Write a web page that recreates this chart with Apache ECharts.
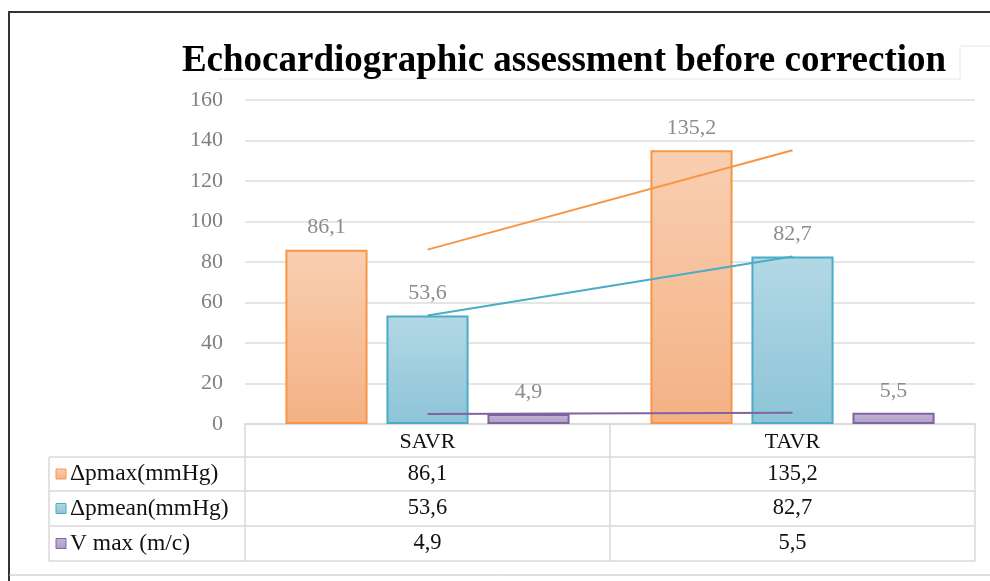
<!DOCTYPE html>
<html>
<head>
<meta charset="utf-8">
<script src="https://cdn.jsdelivr.net/npm/echarts@6/dist/echarts.min.js"></script>
<style>
html,body{margin:0;padding:0;background:#fff;}
#chart{width:990px;height:581px;}
</style>
</head>
<body>
<div id="chart"></div>
<script>
// ---- data ----
const categories = ['SAVR', 'TAVR'];
const seriesNames = ['Δpmax(mmHg)', 'Δpmean(mmHg)', 'V max (m/c)'];
const pmaxValues = [86.1, 135.2];
const pmeanValues = [53.6, 82.7];
const vmaxValues = [4.9, 5.5];
const yTicks = [0, 20, 40, 60, 80, 100, 120, 140, 160];
const titleText = 'Echocardiographic assessment before correction';

// ---- styles ----
const SERIF = '"Liberation Serif", "Times New Roman", serif';
const colors = [
  {top: '#F9CFB2', bottom: '#F4B184', border: '#F79646', line: '#F79646'},
  {top: '#B3D8E5', bottom: '#8CC4D7', border: '#4BACC6', line: '#4BACC6'},
  {top: '#C3B6D6', bottom: '#AE9CC8', border: '#8064A2', line: '#8064A2'}
];
const allValues = [pmaxValues, pmeanValues, vmaxValues];
const fmt = v => String(v).replace('.', ',');

const G = {left: 245, right: 975, top: 100, bottom: 424};
const rowH = [424, 457, 491, 526, 561];
const labelColLeft = 49;
const grad = c => new echarts.graphic.LinearGradient(0, 0, 0, 1, [
  {offset: 0, color: c.top}, {offset: 1, color: c.bottom}]);

const series = [];
allValues.forEach((vals, i) => {
  series.push({
    name: seriesNames[i], type: 'bar', data: vals,
    barWidth: '22.5%', barGap: '23%',
    itemStyle: {color: grad(colors[i]), borderColor: colors[i].border, borderWidth: 2},
    label: {show: true, position: 'top', distance: 11, color: '#8c8c8c',
      fontFamily: SERIF, fontSize: 22, formatter: p => fmt(p.value)},
    z: 2
  });
});
allValues.forEach((vals, i) => {
  series.push({
    name: seriesNames[i] + ' trend', type: 'line', data: vals,
    symbol: 'none', lineStyle: {color: colors[i].line, width: 2},
    z: 5, silent: true
  });
});

// ---- table graphics ----
const graphics = [];
const tableLine = '#d9d9d9';
function hline(x1, x2, y, color, w) {
  graphics.push({type: 'line', shape: {x1, y1: y, x2, y2: y},
    style: {stroke: color || tableLine, lineWidth: w || 1.5}, silent: true});
}
function vline(x, y1, y2, color, w) {
  graphics.push({type: 'line', shape: {x1: x, y1, x2: x, y2},
    style: {stroke: color || tableLine, lineWidth: w || 1.5}, silent: true});
}
const colMid = (G.left + G.right) / 2;
const catCenters = [(G.left + colMid) / 2, (colMid + G.right) / 2];
hline(G.left, G.right, rowH[0]);
hline(labelColLeft, G.right, rowH[1]);
hline(labelColLeft, G.right, rowH[2]);
hline(labelColLeft, G.right, rowH[3]);
hline(labelColLeft, G.right, rowH[4]);
vline(G.left, rowH[0], rowH[4]);
vline(colMid, rowH[0], rowH[4]);
vline(G.right, rowH[0], rowH[4]);
vline(labelColLeft, rowH[1], rowH[4]);

seriesNames.forEach((name, i) => {
  const yc = (rowH[i + 1] + rowH[i + 2]) / 2;
  graphics.push({type: 'rect', shape: {x: 56, y: yc - 5, width: 10, height: 10},
    style: {fill: grad(colors[i]), stroke: colors[i].border, lineWidth: 1}, silent: true});
  graphics.push({type: 'text', x: 70, y: yc,
    style: {text: name, font: '23.5px ' + SERIF, fill: '#111', textAlign: 'left', textVerticalAlign: 'middle'}, silent: true});
  allValues[i].forEach((v, j) => {
    graphics.push({type: 'text', x: catCenters[j], y: yc,
      style: {text: fmt(v), font: '22.5px ' + SERIF, fill: '#111', textAlign: 'center', textVerticalAlign: 'middle'}, silent: true});
  });
});

// frame
graphics.push({type: 'polyline', shape: {points: [[9, 581], [9, 12], [990, 12]]},
  style: {stroke: '#333', lineWidth: 2, fill: null}, silent: true});
hline(9, 990, 575, '#bdbdbd', 1);
// faint title box
graphics.push({type: 'polyline', shape: {points: [[218, 79], [960, 79], [960, 46], [990, 46]]},
  style: {stroke: '#e8e8e8', lineWidth: 1, fill: null}, silent: true});
// title
graphics.push({type: 'text', x: 564, y: 61,
  style: {text: titleText, font: 'bold 37px ' + SERIF, fill: '#000', textAlign: 'center', textVerticalAlign: 'middle'}, silent: true});

const chart = echarts.init(document.getElementById('chart'));
chart.setOption({
  animation: false,
  backgroundColor: '#fff',
  grid: {left: G.left, right: 990 - G.right, top: G.top, bottom: 581 - G.bottom, containLabel: false},
  xAxis: {
    type: 'category', data: categories,
    axisLine: {show: true, lineStyle: {color: tableLine, width: 1.5}},
    axisTick: {show: false},
    axisLabel: {color: '#111', fontFamily: SERIF, fontSize: 22, margin: 7}
  },
  yAxis: {
    type: 'value', min: yTicks[0], max: yTicks[yTicks.length - 1], interval: yTicks[1] - yTicks[0],
    axisLine: {show: false}, axisTick: {show: false},
    axisLabel: {color: '#808080', fontFamily: SERIF, fontSize: 22, margin: 22},
    splitLine: {lineStyle: {color: '#dcdcdc', width: 1.5}}
  },
  series: series,
  graphic: graphics
});
</script>
</body>
</html>
